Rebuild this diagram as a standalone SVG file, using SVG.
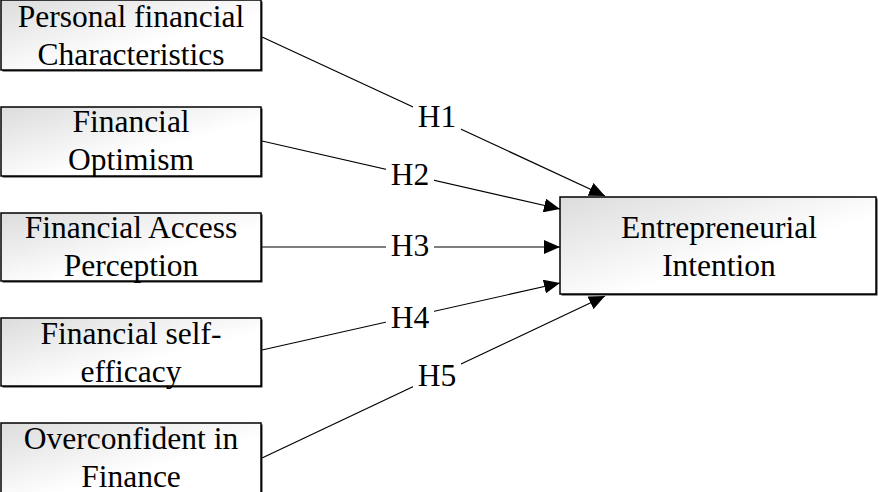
<svg xmlns="http://www.w3.org/2000/svg" width="878" height="492" viewBox="0 0 878 492">
  <defs>
    <linearGradient id="g" x1="0" y1="0" x2="1" y2="1">
      <stop offset="0" stop-color="#dcdcdc"/>
      <stop offset="0.6" stop-color="#ffffff"/>
      <stop offset="1" stop-color="#ffffff"/>
    </linearGradient>
    <marker id="arr" markerUnits="userSpaceOnUse" markerWidth="17" markerHeight="14" refX="16" refY="7" orient="auto">
      <path d="M0,0 L16,7 L0,14 z" fill="#000"/>
    </marker>
    <style>
      .shadow { fill: #222; }
      .box { fill: url(#g); stroke: #000; stroke-width: 1.5; }
      .t { font-family: "Liberation Serif", "Times New Roman", serif; font-size: 31.5px; fill: #000; text-anchor: middle; }
      .edge { stroke: #000; stroke-width: 1.2; fill: none; marker-end: url(#arr); }
      .lbg { fill: #fff; }
    </style>
  </defs>

  <g id="connectors">
    <line class="edge" x1="262" y1="37" x2="605" y2="196"/>
    <line class="edge" x1="262" y1="141" x2="560" y2="209"/>
    <line class="edge" x1="262" y1="247" x2="560" y2="247"/>
    <line class="edge" x1="262" y1="350" x2="560" y2="283"/>
    <line class="edge" x1="262" y1="458" x2="605" y2="296"/>
    <rect class="lbg" x="413" y="102" width="48" height="30"/>
    <text class="t" x="437" y="127">H1</text>
    <rect class="lbg" x="386" y="160" width="48" height="30"/>
    <text class="t" x="410" y="185">H2</text>
    <rect class="lbg" x="386" y="231" width="48" height="30"/>
    <text class="t" x="410" y="256">H3</text>
    <rect class="lbg" x="386" y="303" width="48" height="30"/>
    <text class="t" x="410" y="328">H4</text>
    <rect class="lbg" x="413" y="361" width="48" height="30"/>
    <text class="t" x="437" y="386">H5</text>
  </g>

  <g id="n1">
    <rect class="shadow" x="2.5" y="1.5" width="260" height="70"/>
    <rect class="box" x="1" y="0" width="260" height="70"/>
    <text class="t" x="131" y="27">Personal financial</text>
    <text class="t" x="131" y="65">Characteristics</text>
  </g>
  <g id="n2">
    <rect class="shadow" x="2.5" y="108.5" width="260" height="69"/>
    <rect class="box" x="1" y="107" width="260" height="69"/>
    <text class="t" x="131" y="132">Financial</text>
    <text class="t" x="131" y="170">Optimism</text>
  </g>
  <g id="n3">
    <rect class="shadow" x="2.5" y="214.5" width="260" height="68"/>
    <rect class="box" x="1" y="213" width="260" height="68"/>
    <text class="t" x="131" y="238">Financial Access</text>
    <text class="t" x="131" y="276">Perception</text>
  </g>
  <g id="n4">
    <rect class="shadow" x="2.5" y="319.5" width="260" height="68"/>
    <rect class="box" x="1" y="318" width="260" height="68"/>
    <text class="t" x="131" y="344">Financial self-</text>
    <text class="t" x="131" y="382">efficacy</text>
  </g>
  <g id="n5">
    <rect class="shadow" x="2.5" y="424.5" width="260" height="71"/>
    <rect class="box" x="1" y="423" width="260" height="71"/>
    <text class="t" x="131" y="449">Overconfident in</text>
    <text class="t" x="131" y="487">Finance</text>
  </g>
  <g id="target">
    <rect class="shadow" x="561.5" y="198.5" width="316" height="97"/>
    <rect class="box" x="560" y="197" width="316" height="97"/>
    <text class="t" x="719" y="238">Entrepreneurial</text>
    <text class="t" x="719" y="276">Intention</text>
  </g>
</svg>
